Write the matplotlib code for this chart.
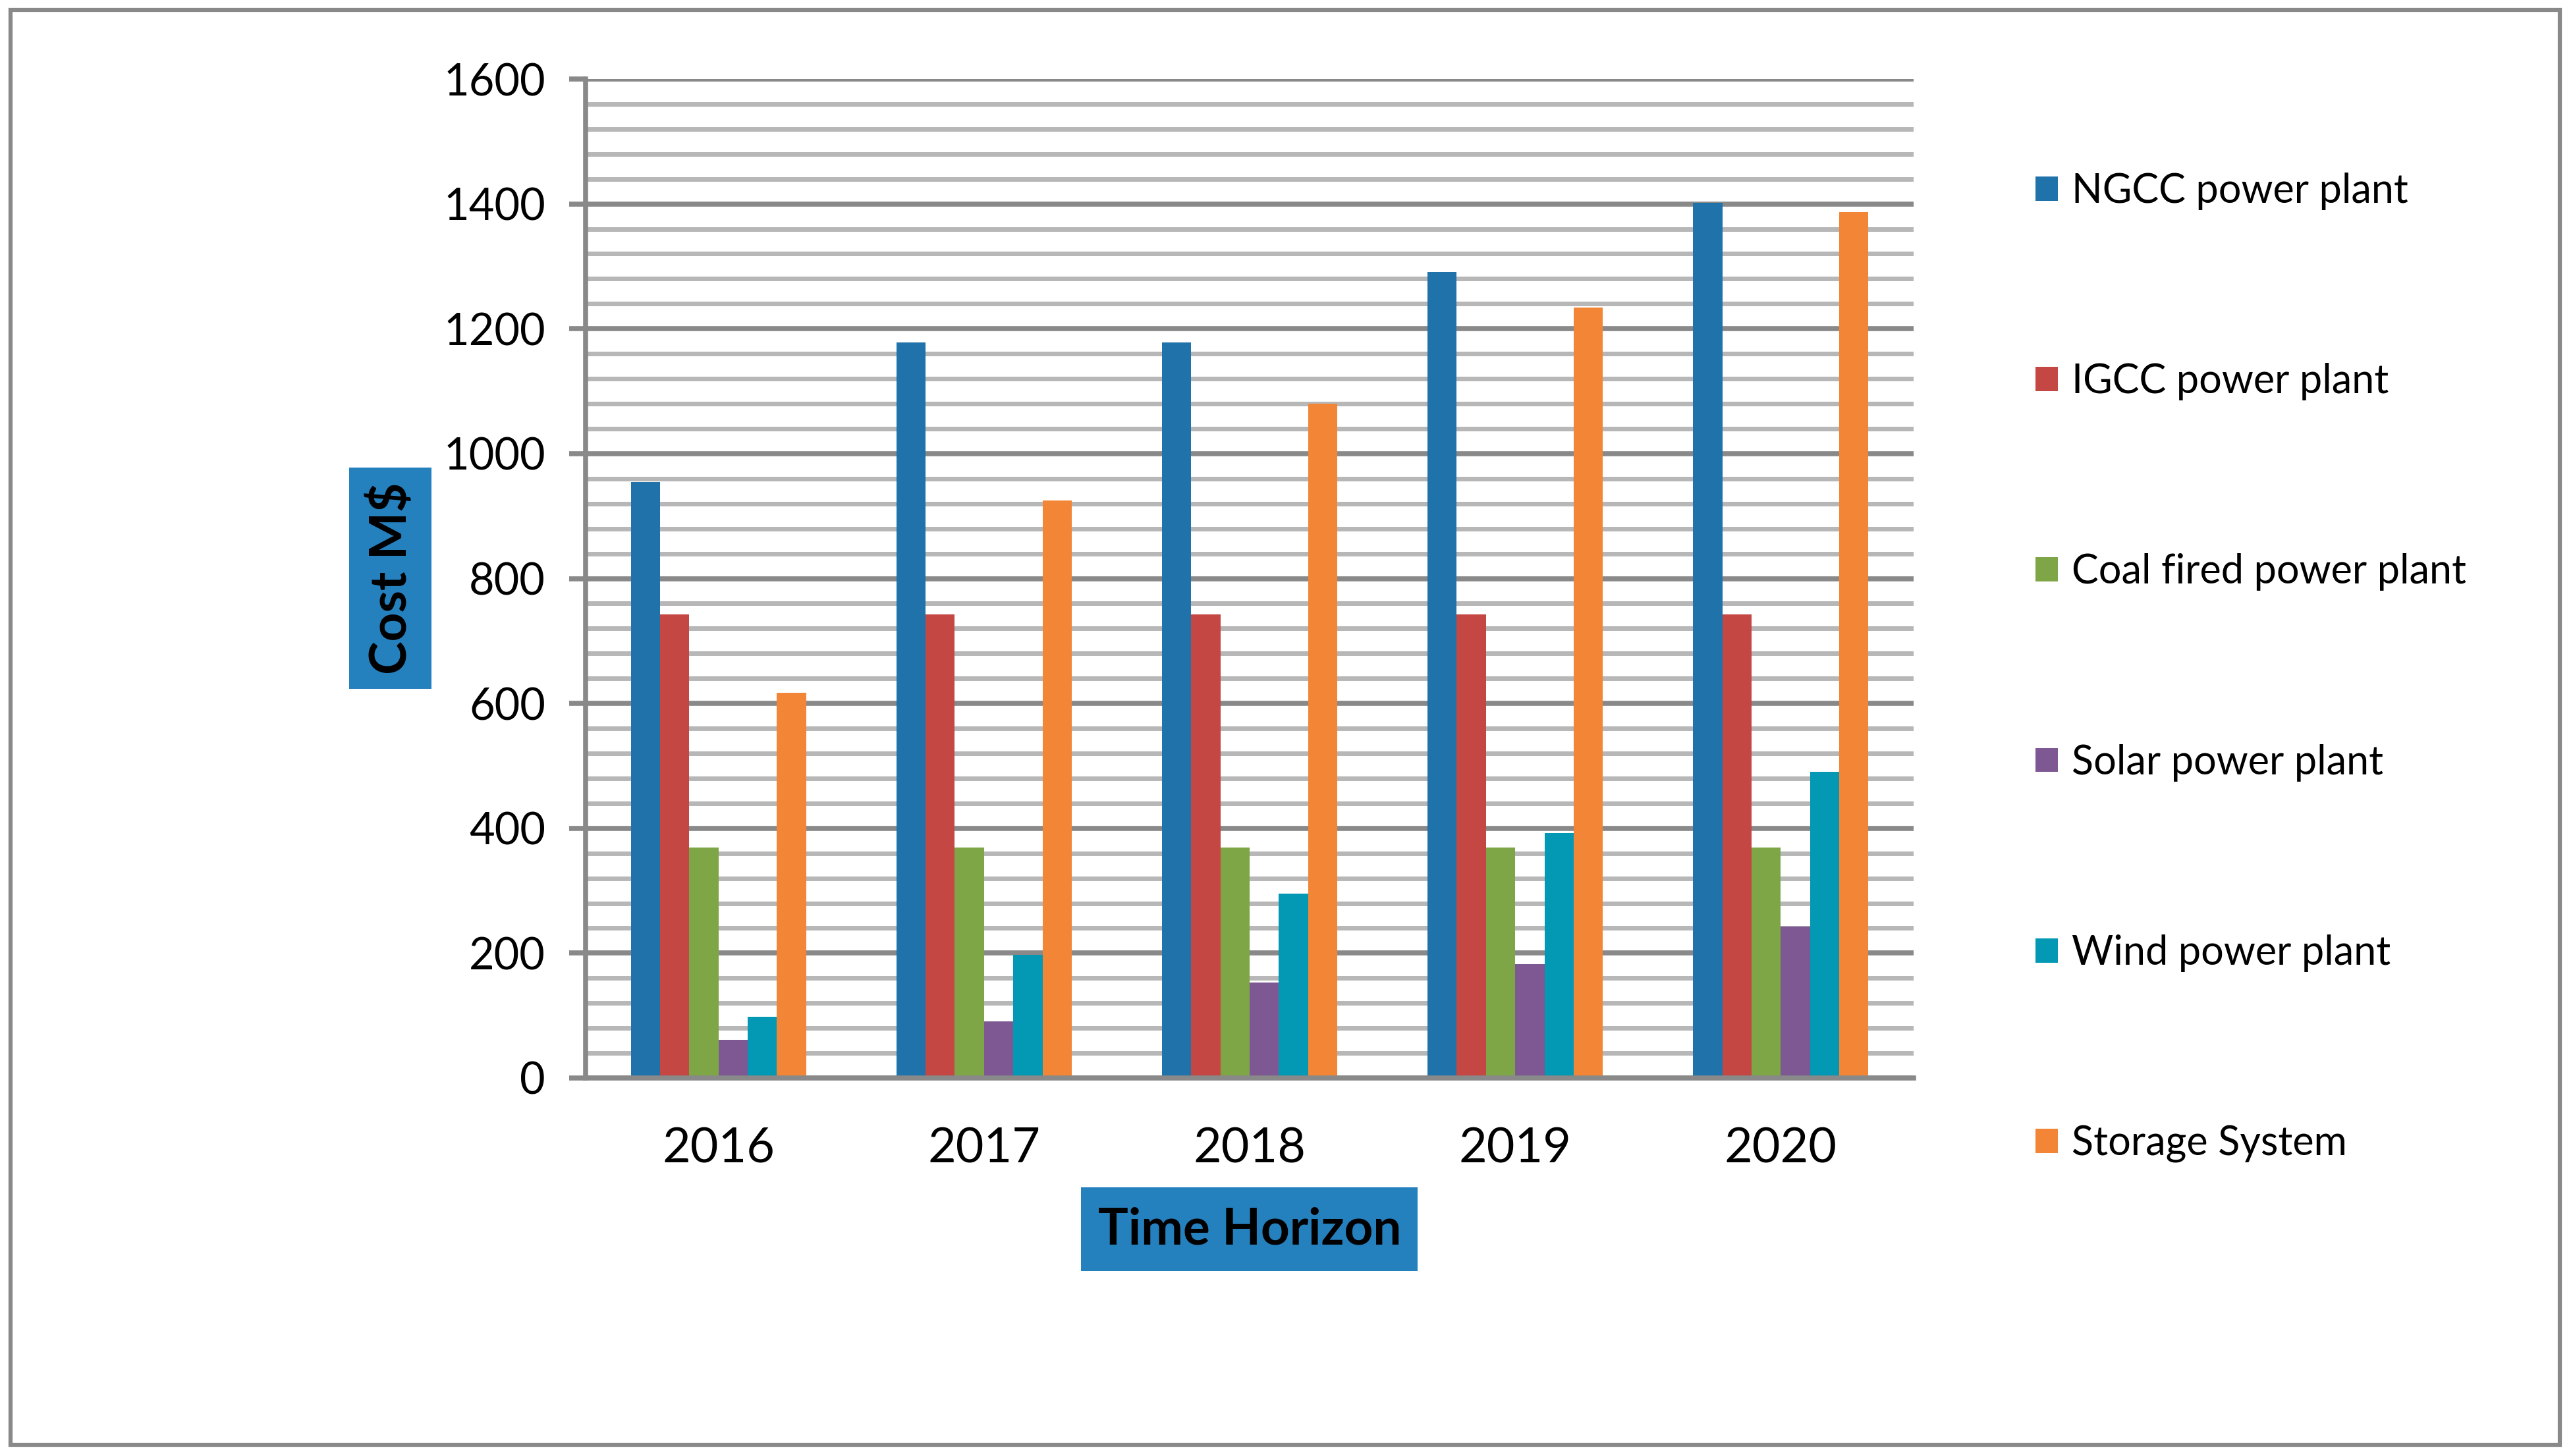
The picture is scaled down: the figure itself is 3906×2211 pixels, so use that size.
import matplotlib
matplotlib.use("Agg")
import matplotlib.pyplot as plt
import numpy as np
from matplotlib.patches import Rectangle
from matplotlib.ticker import MultipleLocator

years = ["2016", "2017", "2018", "2019", "2020"]
series_names = ["NGCC power plant", "IGCC power plant", "Coal fired power plant",
                "Solar power plant", "Wind power plant", "Storage System"]
ngcc = [954, 1178, 1178, 1291, 1402]
igcc = [743, 743, 743, 743, 743]
coal = [369, 369, 369, 369, 369]
solar = [61, 91, 153, 182, 243]
wind = [98, 197, 295, 392, 490]
storage = [617, 925, 1080, 1234, 1387]
colors = ["#1F73AA", "#C44744", "#7FA646", "#7D5893", "#0398B3", "#F28636"]

plt.rcParams['font.family'] = ['Lato', 'DejaVu Sans']

W, H = 3906, 2211
fig = plt.figure(figsize=(W / 100, H / 100), dpi=100)
fig.patch.set_facecolor("white")

ax = fig.add_axes([889 / W, 1 - 1637 / H, (2905 - 889) / W, (1637 - 120) / H])

x = np.arange(len(years))
bw = 0.11
all_series = [ngcc, igcc, coal, solar, wind, storage]
for i, (vals, name, c) in enumerate(zip(all_series, series_names, colors)):
    ax.bar(x + (i - 2.5) * bw, vals, width=bw, color=c, label=name, zorder=3)

ax.set_xlim(-0.5, 4.5)
ax.set_ylim(0, 1600)
ax.yaxis.set_major_locator(MultipleLocator(200))
ax.yaxis.set_minor_locator(MultipleLocator(40))
ax.grid(which="minor", axis="y", color="#B7B7B7", lw=5.0, zorder=1)
ax.grid(which="major", axis="y", color="#898989", lw=5.5, zorder=2)
ax.tick_params(axis="y", which="minor", length=0)
ax.tick_params(axis="y", which="major", length=18, width=5.5, color="#898989",
               labelsize=48, pad=26)
ax.set_xticks(x)
ax.set_xticklabels(years)
ax.tick_params(axis="x", length=0, labelsize=53, pad=54)
for s in ["top", "right"]:
    ax.spines[s].set_visible(False)
for s in ["left", "bottom"]:
    ax.spines[s].set_color("#898989")
    ax.spines[s].set_linewidth(5.5)
    ax.spines[s].set_zorder(4)

box_color = "#2580BE"
# axis title boxes
fig.patches.append(Rectangle((530 / W, 1 - 1046 / H), (655 - 530) / W, (1046 - 710) / H,
                             transform=fig.transFigure, facecolor=box_color, edgecolor="none"))
fig.text(595 / W, 1 - 878 / H, "Cost M$", rotation=90, ha="center", va="center",
         fontsize=55, fontweight="bold", color="black")
fig.patches.append(Rectangle((1641 / W, 1 - 1930 / H), (2152 - 1641) / W, (1930 - 1803) / H,
                             transform=fig.transFigure, facecolor=box_color, edgecolor="none"))
fig.text(1897 / W, 1 - 1868 / H, "Time Horizon", ha="center", va="center",
         fontsize=55, fontweight="bold", color="black")

# outer border
fig.patches.append(Rectangle((16 / W, 1 - 2194 / H), (3886 - 16) / W, (2194 - 15) / H,
                             transform=fig.transFigure, facecolor="none",
                             edgecolor="#898989", lw=4.5))

leg = ax.legend(loc="upper left", bbox_to_anchor=(3090 / W, 1 - 262 / H),
                bbox_transform=fig.transFigure, frameon=False, fontsize=44,
                handlelength=0.55, handleheight=0.55, handletextpad=0.35,
                labelspacing=3.8, borderaxespad=0, borderpad=0)

fig.savefig("out.png", dpi=100, facecolor="white")
